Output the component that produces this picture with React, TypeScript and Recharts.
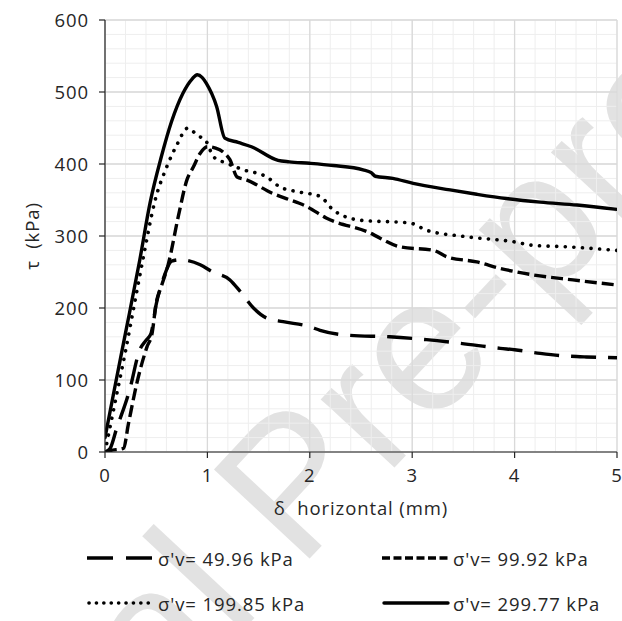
import { LineChart, Line, XAxis, YAxis, CartesianGrid, Legend } from "recharts"

// δ horizontal (mm) / τ (kPa)
const s50X = [0, 0.05, 0.11, 0.24, 0.34, 0.4, 0.45, 0.5, 0.58, 0.65, 0.73, 0.93, 1.05, 1.22, 1.32, 1.45, 1.58, 1.74, 2.0, 2.1, 2.39, 2.78, 3.14, 3.47, 3.86, 4.0, 4.25, 4.44, 4.7, 5.0]
const s50Y = [0, 5, 31, 86, 142, 155, 165, 205, 245, 265, 267, 260, 250, 239, 223, 200, 186, 181, 174, 169, 162, 160, 156, 151, 144, 142, 137, 134, 132, 131]

const s100X = [0, 0.05, 0.18, 0.23, 0.31, 0.41, 0.46, 0.5, 0.55, 0.62, 0.72, 0.8, 0.86, 0.93, 1.0, 1.08, 1.15, 1.22, 1.29, 1.38, 1.64, 1.77, 1.97, 2.16, 2.56, 2.88, 3.21, 3.34, 3.63, 3.86, 4.18, 4.57, 5.0]
const s100Y = [0, 2, 5, 40, 95, 146, 165, 207, 230, 262, 330, 378, 395, 415, 424, 422, 417, 406, 382, 378, 359, 352, 341, 325, 306, 285, 280, 271, 264, 255, 246, 239, 232]

const s200X = [0, 0.1, 0.2, 0.3, 0.37, 0.49, 0.6, 0.7, 0.81, 0.9, 0.99, 1.06, 1.19, 1.35, 1.58, 1.71, 1.9, 2.1, 2.23, 2.49, 2.98, 3.14, 3.53, 3.99, 4.18, 4.51, 5.0]
const s200Y = [0, 70, 140, 215, 267, 350, 395, 426, 450, 440, 431, 410, 401, 392, 382, 368, 361, 355, 336, 322, 318, 308, 299, 292, 287, 285, 280]

const s300X = [0, 0.1, 0.2, 0.34, 0.44, 0.55, 0.65, 0.76, 0.85, 0.9, 0.95, 0.99, 1.09, 1.17, 1.3, 1.43, 1.69, 1.8, 2.0, 2.23, 2.52, 2.6, 2.64, 2.81, 3.01, 3.37, 3.63, 3.92, 4.25, 4.61, 5.0]
const s300Y = [20, 93, 165, 267, 346, 410, 459, 498, 518, 524, 520, 512, 480, 436, 430, 424, 405, 403, 401, 398, 392, 388, 383, 380, 373, 364, 358, 352, 347, 343, 337]

const xTicks = [0, 1, 2, 3, 4, 5]
const yTicks = [0, 100, 200, 300, 400, 500, 600]
const xMinorTicks = [0, 0.2, 0.4, 0.6, 0.8, 1, 1.2, 1.4, 1.6, 1.8, 2, 2.2, 2.4, 2.6, 2.8, 3, 3.2, 3.4, 3.6, 3.8, 4, 4.2, 4.4, 4.6, 4.8, 5]
const yMinorTicks = [0, 20, 40, 60, 80, 100, 120, 140, 160, 180, 200, 220, 240, 260, 280, 300, 320, 340, 360, 380, 400, 420, 440, 460, 480, 500, 520, 540, 560, 580, 600]

const X_MAX = 5
const Y_MAX = 600

const zip = (xs: number[], ys: number[]) => xs.map((x, i) => ({ x, y: ys[i] }))

const series = [
  { name: "σ'v= 49.96 kPa", data: zip(s50X, s50Y), dash: "25 12", legendDash: "26 13", cap: "butt", width: 3.4 },
  { name: "σ'v= 99.92 kPa", data: zip(s100X, s100Y), dash: "12 5", legendDash: "8 3.5", cap: "butt", width: 3.4 },
  { name: "σ'v= 199.85 kPa", data: zip(s200X, s200Y), dash: "0.1 8.5", legendDash: "0.1 7.3", cap: "round", width: 3.6 },
  { name: "σ'v= 299.77 kPa", data: zip(s300X, s300Y), dash: undefined, legendDash: undefined, cap: "round", width: 3.4 },
]

const FONT = "'Open Sans', 'Liberation Sans', sans-serif"
const TEXT = "#262626"
const FS = 18.5
const LS = 0.9

// minor grid lines through the axis scales
const minorVertical = ({ xAxis, offset }: any) =>
  xMinorTicks.map((t) =>
    xAxis && typeof xAxis.scale === "function" ? xAxis.scale(t) : offset.left + (t / X_MAX) * offset.width
  )
const minorHorizontal = ({ yAxis, offset }: any) =>
  yMinorTicks.map((t) =>
    yAxis && typeof yAxis.scale === "function" ? yAxis.scale(t) : offset.top + (1 - t / Y_MAX) * offset.height
  )

// faint "Journal Pre-proof" stamp behind the chart
const Watermark = () => (
  <svg width={622} height={621} style={{ position: "absolute", left: 0, top: 0 }}>
    <g transform="translate(299 570) rotate(-47)" fill="#e2e2e2" fontSize={190} fontFamily="'Liberation Sans', Arial, sans-serif">
      <text x={0} y={0} textAnchor="end">{"Journal\u00A0"}</text>
      <text x={0} y={0}>Pre-proof</text>
    </g>
  </svg>
)

const LegendGrid = () => (
  <div style={{ position: "relative", width: 622, height: 80, fontFamily: FONT, fontSize: FS, letterSpacing: LS, color: TEXT }}>
    {series.map((s, i) => (
      <div
        key={s.name}
        style={{
          position: "absolute",
          left: i % 2 === 0 ? 87 : 382,
          top: Math.floor(i / 2) * 45,
          display: "flex",
          alignItems: "center",
          height: 36,
          whiteSpace: "nowrap",
        }}
      >
        <svg width={68} height={10} style={{ marginRight: 3 }}>
          <line
            x1={s.cap === "round" ? 2 : 0}
            y1={5}
            x2={66}
            y2={5}
            stroke="#000"
            strokeWidth={s.width}
            strokeDasharray={s.legendDash}
            strokeLinecap={s.cap as any}
          />
        </svg>
        <span>{s.name}</span>
      </div>
    ))}
  </div>
)

const YTitle = (props: any) => {
  const vb = props.viewBox
  const x = vb.x + 31
  const y = vb.y + vb.height / 2
  return (
    <text x={x} y={y} transform={`rotate(-90 ${x} ${y})`} textAnchor="middle" dominantBaseline="central" fill={TEXT} fontSize={FS} letterSpacing={LS} fontFamily={FONT}>
      {"τ\u00A0\u00A0(kPa)"}
    </text>
  )
}

const XTitle = (props: any) => {
  const vb = props.viewBox
  return (
    <text x={vb.x + vb.width / 2} y={vb.y + 55} textAnchor="middle" dominantBaseline="central" fill={TEXT} fontSize={FS} letterSpacing={LS} fontFamily={FONT}>
      {"δ\u00A0\u00A0horizontal (mm)"}
    </text>
  )
}

const tickStyle = { fill: TEXT, fontSize: FS, fontFamily: FONT, letterSpacing: LS }

export default function App() {
  return (
    <div style={{ position: "absolute", left: 0, top: 0, width: 622, height: 621, background: "#fff", overflow: "hidden" }}>
      <Watermark />
      <div style={{ position: "absolute", left: 0, top: 0 }}>
        <LineChart width={622} height={621} margin={{ top: 20, right: 5, bottom: 0, left: 0 }}>
          <CartesianGrid
            stroke="#eeeeee"
            strokeWidth={1}
            verticalCoordinatesGenerator={minorVertical}
            horizontalCoordinatesGenerator={minorHorizontal}
          />
          <CartesianGrid stroke="#d9d9d9" strokeWidth={1.3} />
          <XAxis
            dataKey="x"
            type="number"
            domain={[0, X_MAX]}
            ticks={xTicks}
            allowDataOverflow
            height={169}
            tickSize={6}
            tickMargin={11}
            axisLine={{ stroke: "#262626", strokeWidth: 1.2 }}
            tickLine={{ stroke: "#262626", strokeWidth: 1.2 }}
            tick={tickStyle}
            label={{ content: XTitle }}
          />
          <YAxis
            type="number"
            domain={[0, Y_MAX]}
            ticks={yTicks}
            allowDataOverflow
            width={105}
            tickSize={6}
            tickMargin={10}
            axisLine={{ stroke: "#262626", strokeWidth: 1.2 }}
            tickLine={{ stroke: "#262626", strokeWidth: 1.2 }}
            tick={tickStyle}
            label={{ content: YTitle }}
          />
          {series.map((s) => (
            <Line
              key={s.name}
              data={s.data}
              dataKey="y"
              name={s.name}
              type="monotone"
              stroke="#000"
              strokeWidth={s.width}
              strokeDasharray={s.dash}
              strokeLinecap={s.cap as any}
              strokeLinejoin="round"
              dot={false}
              activeDot={false}
              isAnimationActive={false}
            />
          ))}
          <Legend
            layout="horizontal"
            verticalAlign="middle"
            align="center"
            content={() => <LegendGrid />}
            wrapperStyle={{ left: 0, top: 540, width: 622 }}
          />
        </LineChart>
      </div>
    </div>
  )
}
